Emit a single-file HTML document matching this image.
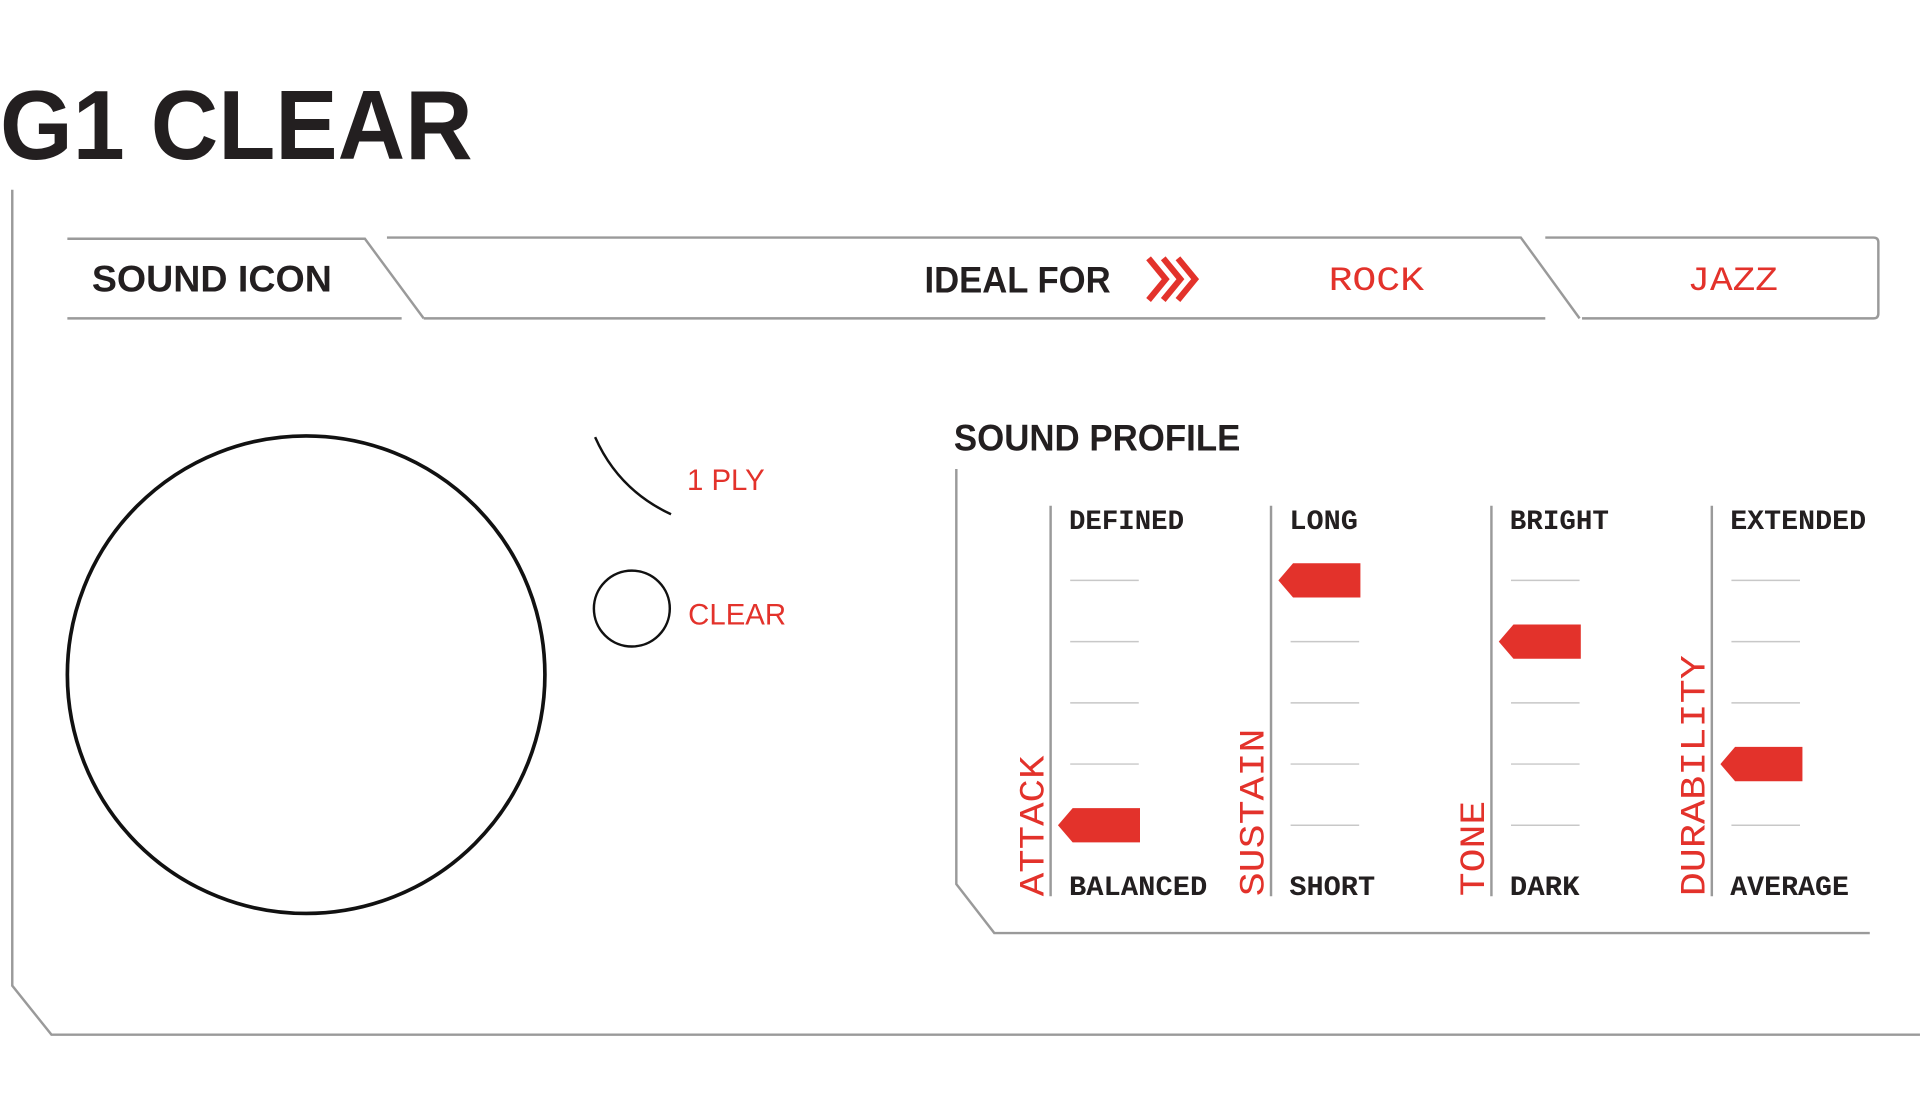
<!DOCTYPE html>
<html><head><meta charset="utf-8"><style>
html,body{margin:0;padding:0;background:#fff;}
svg{display:block}
.b{font-family:"Liberation Sans",sans-serif;font-weight:bold;fill:#231f20}
.r{font-family:"Liberation Mono",monospace;fill:#e3322b}
.m{font-family:"Liberation Mono",monospace;font-weight:bold;fill:#231f20;font-size:23px}
.g{stroke:#9a9a9a;stroke-width:2;fill:none}
.t{stroke:#c8c8c8;stroke-width:1.2}
</style></head><body>
<svg width="1920" height="1109" viewBox="0 0 1568 905.7" xmlns="http://www.w3.org/2000/svg">
<text x="0" y="130" class="b" font-size="80" textLength="386" lengthAdjust="spacingAndGlyphs">G1 CLEAR</text>
<polyline class="g" points="10,155 10,805 42,845 1568,845"/>
<polyline class="g" points="55,195 298,195 346,260"/>
<line class="g" x1="55" y1="260" x2="328" y2="260"/>
<polyline class="g" points="316,194 1242,194 1290,260"/>
<line class="g" x1="346" y1="260" x2="1262" y2="260"/>
<path class="g" d="M1262,194 H1530 Q1534,194 1534,198 V256 Q1534,260 1530,260 H1292"/>
<text x="75" y="238" class="b" font-size="30" textLength="196" lengthAdjust="spacingAndGlyphs">SOUND ICON</text>
<text x="755" y="239" class="b" font-size="30" textLength="152" lengthAdjust="spacingAndGlyphs">IDEAL FOR</text>
<g fill="none" stroke="#e3322b" stroke-width="5">
<polyline points="938,211 952,228 938,245"/><polyline points="950,211 964,228 950,245"/><polyline points="962,211 976,228 962,245"/></g>
<text x="1085" y="237" class="r" font-size="28" textLength="78" lengthAdjust="spacingAndGlyphs">ROCK</text>
<text x="1378" y="237" class="r" font-size="28" textLength="74" lengthAdjust="spacingAndGlyphs">JAZZ</text>
<circle cx="250" cy="551" r="195" fill="none" stroke="#111" stroke-width="3"/>
<path d="M486,357 Q505,400 548,420" fill="none" stroke="#111" stroke-width="2"/>
<text x="561" y="400" font-family="Liberation Sans,sans-serif" font-size="24" fill="#e3322b">1 PLY</text>
<circle cx="516" cy="497" r="31" fill="none" stroke="#111" stroke-width="2"/>
<text x="562" y="510" font-family="Liberation Sans,sans-serif" font-size="24" fill="#e3322b">CLEAR</text>
<text x="779" y="368" class="b" font-size="30" textLength="234" lengthAdjust="spacingAndGlyphs">SOUND PROFILE</text>
<polyline class="g" points="781,383 781,722 812,762 1527,762"/>
<g class="g"><line x1="858" y1="413" x2="858" y2="732"/><line x1="1038" y1="413" x2="1038" y2="732"/><line x1="1218" y1="413" x2="1218" y2="732"/><line x1="1398" y1="413" x2="1398" y2="732"/></g>
<g class="t">
<path d="M874,474h56M874,524h56M874,574h56M874,624h56M874,674h56"/>
<path d="M1054,474h56M1054,524h56M1054,574h56M1054,624h56M1054,674h56"/>
<path d="M1234,474h56M1234,524h56M1234,574h56M1234,624h56M1234,674h56"/>
<path d="M1414,474h56M1414,524h56M1414,574h56M1414,624h56M1414,674h56"/></g>
<g fill="#e3322b">
<polygon points="876,660 931,660 931,688 876,688 864,674"/>
<polygon points="1056,460 1111,460 1111,488 1056,488 1044,474"/>
<polygon points="1236,510 1291,510 1291,538 1236,538 1224,524"/>
<polygon points="1417,610 1472,610 1472,638 1417,638 1405,624"/></g>
<text x="873" y="432" class="m" textLength="94" lengthAdjust="spacingAndGlyphs">DEFINED</text>
<text x="873" y="731" class="m" textLength="113" lengthAdjust="spacingAndGlyphs">BALANCED</text>
<text x="1053" y="432" class="m" textLength="56" lengthAdjust="spacingAndGlyphs">LONG</text>
<text x="1053" y="731" class="m" textLength="70" lengthAdjust="spacingAndGlyphs">SHORT</text>
<text x="1233" y="432" class="m" textLength="81" lengthAdjust="spacingAndGlyphs">BRIGHT</text>
<text x="1233" y="731" class="m" textLength="57" lengthAdjust="spacingAndGlyphs">DARK</text>
<text x="1413" y="432" class="m" textLength="111" lengthAdjust="spacingAndGlyphs">EXTENDED</text>
<text x="1413" y="731" class="m" textLength="97" lengthAdjust="spacingAndGlyphs">AVERAGE</text>
<text transform="translate(852,732) rotate(-90)" class="r" font-size="29" textLength="115" lengthAdjust="spacingAndGlyphs">ATTACK</text>
<text transform="translate(1032,732) rotate(-90)" class="r" font-size="29" textLength="137" lengthAdjust="spacingAndGlyphs">SUSTAIN</text>
<text transform="translate(1212,732) rotate(-90)" class="r" font-size="29" textLength="78" lengthAdjust="spacingAndGlyphs">TONE</text>
<text transform="translate(1392,732) rotate(-90)" class="r" font-size="29" textLength="197" lengthAdjust="spacingAndGlyphs">DURABILITY</text>
</svg>
</body></html>
